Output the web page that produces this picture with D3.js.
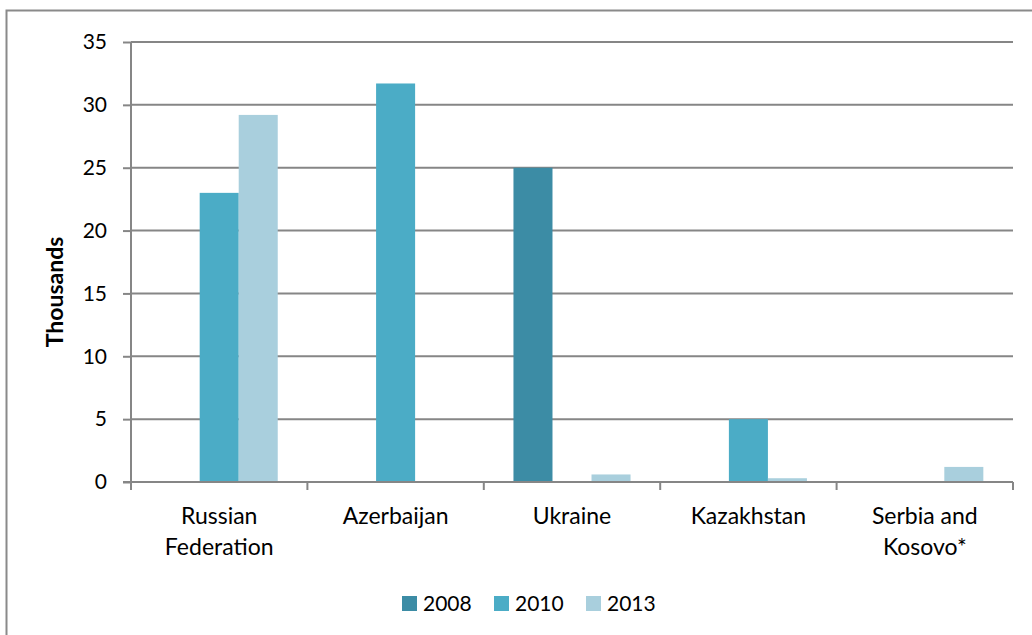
<!DOCTYPE html>
<html><head><meta charset="utf-8">
<script src="https://cdn.jsdelivr.net/npm/d3@7"></script>
<style>body{margin:0;background:#fff}svg{display:block}text{font-family:Lato,"Open Sans",sans-serif;fill:#000}</style>
</head><body><svg id="c" width="1032" height="635"></svg>
<script>
const categories = [["Russian","Federation"],["Azerbaijan"],["Ukraine"],["Kazakhstan"],["Serbia and","Kosovo*"]];
const seriesNames = ["2008","2010","2013"];
const values2008 = [0, 0, 25.0, 0, 0];
const values2010 = [23.0, 31.7, 0, 5.0, 0];
const values2013 = [29.2, 0, 0.6, 0.3, 1.2];
const yTicks = [0,5,10,15,20,25,30,35];
const colors = ["#3C8CA5","#4BACC6","#A9CFDD"];
const series = [values2008, values2010, values2013];

const svg = d3.select("#c");
svg.append("rect").attr("x",6.5).attr("y",10.5).attr("width",1040).attr("height",640)
  .attr("fill","none").attr("stroke","#8a8a8a").attr("stroke-width",2);

const L=131, R=1013, T=42, B=482;
const x = d3.scaleBand().domain(d3.range(categories.length)).range([L,R]).paddingInner(0).paddingOuter(0);
const y = d3.scaleLinear().domain([0,35]).range([B,T]);
const xs = d3.scaleBand().domain(d3.range(3)).range([0,x.bandwidth()]).paddingInner(0).paddingOuter(0.76);

// gridlines
svg.append("g").selectAll("line").data(yTicks.filter(d=>d>0)).join("line")
  .attr("x1",L).attr("x2",R).attr("y1",d=>y(d)).attr("y2",d=>y(d))
  .attr("stroke","#868686").attr("stroke-width",2);

// bars
series.forEach((vals,si)=>{
  svg.append("g").selectAll("rect").data(vals).join("rect")
    .attr("x",(d,i)=>x(i)+xs(si)).attr("width",xs.bandwidth())
    .attr("y",d=>y(d)).attr("height",d=>y(0)-y(d)).attr("fill",colors[si]);
});

// y axis
const ya = svg.append("g").attr("transform",`translate(${L},0)`)
  .call(d3.axisLeft(y).tickValues(yTicks).tickSize(8).tickPadding(16));
ya.select(".domain").attr("stroke","#868686").attr("stroke-width",2).attr("d",`M0,${B}V${T}`);
ya.selectAll(".tick line").attr("stroke","#868686").attr("stroke-width",2);
ya.selectAll(".tick text").style("font-size","21px").style("font-family","Lato,sans-serif").attr("fill","#000");

// x axis
const xa = svg.append("g").attr("transform",`translate(0,${B})`);
xa.append("line").attr("x1",L-8).attr("x2",R).attr("y1",0).attr("y2",0).attr("stroke","#868686").attr("stroke-width",2);
const bounds = d3.range(categories.length+1).map(i=> i<categories.length? x(i): R);
xa.selectAll("line.tk").data(bounds).join("line").attr("class","tk")
  .attr("x1",d=>d).attr("x2",d=>d).attr("y1",0).attr("y2",8).attr("stroke","#868686").attr("stroke-width",2);
const lab = xa.selectAll("text.cat").data(categories).join("text").attr("class","cat")
  .attr("text-anchor","middle").style("font-size","23px")
  .attr("transform",(d,i)=>`translate(${x(i)+x.bandwidth()/2},42)`);
lab.selectAll("tspan").data(d=>d).join("tspan").attr("x",0).attr("dy",(d,j)=>j===0?0:31).text(d=>d);

// y title
svg.append("text").attr("transform",`translate(63,292) rotate(-90)`)
  .attr("text-anchor","middle").style("font-size","23px").style("font-weight","bold").text("Thousands");

// legend
const legX = [402, 494, 586];
const lg = svg.append("g");
seriesNames.forEach((n,i)=>{
  lg.append("rect").attr("x",legX[i]).attr("y",596).attr("width",15).attr("height",15).attr("fill",colors[i]);
  lg.append("text").attr("x",legX[i]+21).attr("y",611).style("font-size","21px").text(n);
});
</script></body></html>
